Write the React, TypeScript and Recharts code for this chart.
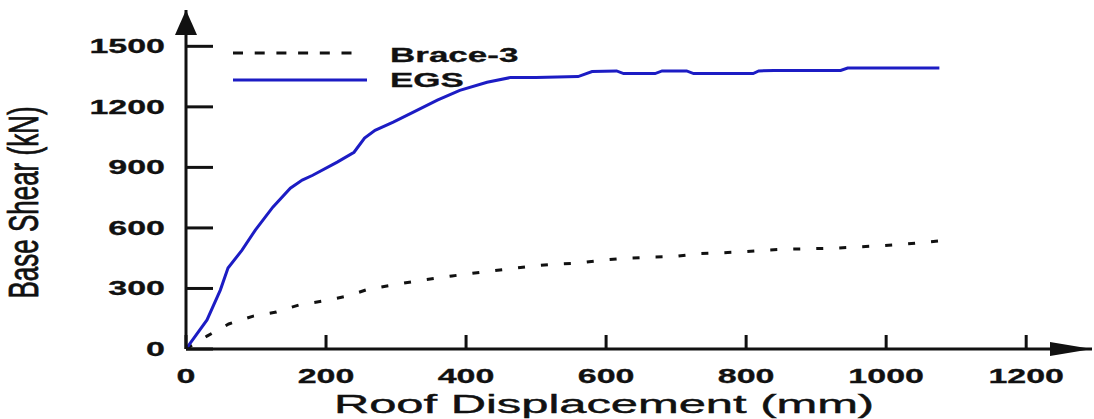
import { Label, Legend, Line, LineChart, ReferenceDot, XAxis, YAxis } from "recharts";

const egsDisp = [0, 30, 49, 60, 80, 99, 124, 149, 166, 181, 216, 240, 255, 270, 296, 324, 359, 391, 430, 463, 500, 560, 580, 615, 625, 670, 680, 715, 725, 810, 818, 840, 935, 945, 1076];
const egsShear = [0, 144, 292, 401, 490, 589, 703, 797, 837, 861, 926, 975, 1045, 1084, 1124, 1173, 1233, 1282, 1322, 1345, 1345, 1350, 1375, 1378, 1365, 1365, 1378, 1378, 1365, 1365, 1378, 1380, 1380, 1392, 1392];

const braceDisp = [0, 30, 61, 96, 129, 161, 196, 230, 261, 300, 340, 380, 420, 460, 494, 529, 561, 596, 629, 663, 696, 730, 761, 796, 827, 861, 894, 927, 960, 994, 1027, 1061, 1075];
const braceShear = [0, 64, 124, 163, 183, 218, 238, 262, 297, 320, 343, 362, 380, 396, 411, 421, 426, 441, 450, 455, 458, 472, 476, 482, 490, 495, 497, 500, 506, 512, 520, 530, 535];

const xTicks = [0, 200, 400, 600, 800, 1000, 1200];
const yTicks = [0, 300, 600, 900, 1200, 1500];

const X_END = 1294;
const Y_END = 1680;

const FONT = "'Liberation Sans', Arial, sans-serif";
const INK = "#111";
const BLUE = "#1c1cc4";

const egsData = egsDisp.map((x, i) => ({ x, y: egsShear[i] }));
const braceData = braceDisp.map((x, i) => ({ x, y: braceShear[i] }));

function YTick({ x, y, payload }: any) {
  return (
    <g>
      <line x1={x} x2={x + 27} y1={y} y2={y} stroke={INK} strokeWidth={3} />
      <text
        transform={`translate(${x - 21},${y + 7}) scale(1.7,1)`}
        textAnchor="end"
        fontFamily={FONT}
        fontWeight="bold"
        fontSize={20}
        fill={INK}
        stroke={INK}
        strokeWidth={0.3}
      >
        {payload.value}
      </text>
    </g>
  );
}

function XTick({ x, y, payload }: any) {
  return (
    <g>
      <line x1={x} x2={x} y1={y} y2={y - 14} stroke={INK} strokeWidth={3} />
      <text
        transform={`translate(${x},${y + 34}) scale(1.7,1)`}
        textAnchor="middle"
        fontFamily={FONT}
        fontWeight="bold"
        fontSize={20}
        fill={INK}
        stroke={INK}
        strokeWidth={0.3}
      >
        {payload.value}
      </text>
    </g>
  );
}

function XTitle({ viewBox }: any) {
  const cx = viewBox.x + viewBox.width / 2 - 35;
  return (
    <text
      transform={`translate(${cx},${viewBox.y + 64}) scale(1.88,1)`}
      textAnchor="middle"
      fontFamily={FONT}
      fontSize={26}
      fill={INK}
      stroke={INK}
      strokeWidth={0.4}
    >
      Roof Displacement (mm)
    </text>
  );
}

function YTitle({ viewBox }: any) {
  const cy = viewBox.y + viewBox.height / 2 + 23;
  return (
    <text
      transform={`translate(${viewBox.x - 88},${cy}) scale(1.6,1) rotate(-90)`}
      textAnchor="middle"
      fontFamily={FONT}
      fontSize={26}
      fill={INK}
      stroke={INK}
      strokeWidth={0.5}
    >
      Base Shear (kN)
    </text>
  );
}

function RightArrow({ cx, cy }: any) {
  return <polygon points={`${cx},${cy} ${cx - 42},${cy - 7} ${cx - 42},${cy + 7}`} fill={INK} />;
}

function UpArrow({ cx, cy }: any) {
  return <polygon points={`${cx},${cy} ${cx - 11},${cy + 25} ${cx + 11},${cy + 25}`} fill={INK} />;
}

function ChartLegend() {
  return (
    <svg width={320} height={56} style={{ display: "block" }}>
      <line x1={0} x2={129} y1={13} y2={13} stroke={INK} strokeWidth={3} strokeDasharray="10 11.7" />
      <text transform="translate(157,22) scale(1.75,1)" fontFamily={FONT} fontWeight="bold" fontSize={20} fill={INK} stroke={INK} strokeWidth={0.3}>
        Brace-3
      </text>
      <line x1={0} x2={134} y1={40} y2={40} stroke={BLUE} strokeWidth={3} />
      <text transform="translate(157,47) scale(1.75,1)" fontFamily={FONT} fontWeight="bold" fontSize={20} fill={INK} stroke={INK} strokeWidth={0.3}>
        EGS
      </text>
    </svg>
  );
}

export default function App() {
  return (
    <div style={{ width: 1094, height: 419, background: "#fff" }}>
      <style>{`body { margin: 0; }`}</style>
      <LineChart width={1094} height={419} margin={{ top: 10, right: 2, left: 126, bottom: 30 }}>
        <XAxis
          type="number"
          dataKey="x"
          domain={[0, X_END]}
          ticks={xTicks}
          interval={0}
          height={40}
          tickSize={0}
          tickMargin={0}
          tickLine={false}
          axisLine={{ stroke: INK, strokeWidth: 3 }}
          tick={<XTick />}
          allowDataOverflow
        >
          <Label content={<XTitle />} />
        </XAxis>
        <YAxis
          type="number"
          dataKey="y"
          domain={[0, Y_END]}
          ticks={yTicks}
          interval={0}
          width={60}
          tickSize={0}
          tickMargin={0}
          tickLine={false}
          axisLine={{ stroke: INK, strokeWidth: 3 }}
          tick={<YTick />}
          allowDataOverflow
        >
          <Label content={<YTitle />} />
        </YAxis>
        <Legend
          layout="horizontal"
          verticalAlign="middle"
          align="center"
          wrapperStyle={{ position: "absolute", top: 40, left: 233, width: 320 }}
          content={<ChartLegend />}
        />
        <Line
          data={braceData}
          dataKey="y"
          name="Brace-3"
          type="linear"
          stroke={INK}
          strokeWidth={3}
          strokeDasharray="7 16"
          dot={false}
          isAnimationActive={false}
        />
        <Line
          data={egsData}
          dataKey="y"
          name="EGS"
          type="linear"
          stroke={BLUE}
          strokeWidth={3}
          dot={false}
          isAnimationActive={false}
        />
        <ReferenceDot x={X_END} y={0} r={0} shape={<RightArrow />} />
        <ReferenceDot x={0} y={Y_END} r={0} shape={<UpArrow />} />
      </LineChart>
    </div>
  );
}
